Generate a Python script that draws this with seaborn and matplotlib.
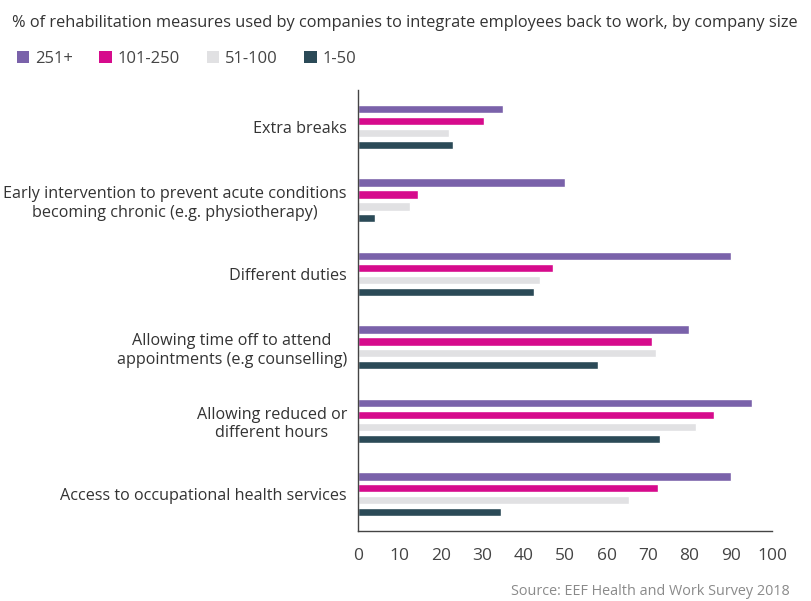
import matplotlib.pyplot as plt
import numpy as np
import pandas as pd
import seaborn as sns
from matplotlib.patches import Patch

# data
measures = [
    "Extra breaks",
    "Early intervention to prevent acute conditions\nbecoming chronic (e.g. physiotherapy)",
    "Different duties",
    "Allowing time off to attend\nappointments (e.g counselling)",
    "Allowing reduced or\ndifferent hours",
    "Access to occupational health services",
]
sizes = ["251+", "101-250", "51-100", "1-50"]
v_251 = [35, 50, 90, 80, 95, 90]
v_101 = [30.5, 14.5, 47, 71, 86, 72.5]
v_51 = [22, 12.5, 44, 72, 81.5, 65.5]
v_1 = [23, 4, 42.5, 58, 73, 34.5]
colors = ["#7A62AA", "#D60B8C", "#E1E1E3", "#2B4A57"]

rows = []
for s, vals in zip(sizes, [v_251, v_101, v_51, v_1]):
    for m, v in zip(measures, vals):
        rows.append({"measure": m, "size": s, "pct": v})
df = pd.DataFrame(rows)

sns.set_style("white")
plt.rcParams['font.family'] = ['Open Sans', 'DejaVu Sans']

fig = plt.figure(figsize=(8.12, 6.01), dpi=100)
ax = fig.add_axes([0.441, 0.1165, 0.510, 0.7335])

sns.barplot(data=df, y="measure", x="pct", hue="size", hue_order=sizes,
            order=measures, palette=colors, orient="y", width=0.65, gap=0.3,
            saturation=1, legend=False, ax=ax)

ax.set_xlim(0, 100)
ax.set_ylim(5.5, -0.5)
ax.set_xticks(np.arange(0, 101, 10))
ax.set_xlabel("")
ax.set_ylabel("")
ax.set_yticks(np.arange(-0.5, 6, 1), minor=True)
ax.tick_params(axis="y", which="major", length=0, pad=8, labelsize=11.6, labelcolor="#333333")
ax.tick_params(axis="y", which="minor", length=5, width=1, color="#555555", direction="out")
ax.tick_params(axis="x", length=6, width=1, color="#555555", labelsize=12.5, labelcolor="#444444", pad=6)
for lab in ax.get_yticklabels():
    lab.set_multialignment("center")
for sp in ["top", "right"]:
    ax.spines[sp].set_visible(False)
for sp in ["left", "bottom"]:
    ax.spines[sp].set_color("#444444")
    ax.spines[sp].set_linewidth(1)

fig.text(0.015, 0.962, "% of rehabilitation measures used by companies to integrate employees back to work, by company size",
         fontsize=11.8, color="#333333", va="center", ha="left")

handles = [Patch(facecolor=c, edgecolor="none", label=s) for s, c in zip(sizes, colors)]
fig.legend(handles=handles, loc="center left", bbox_to_anchor=(0.002, 0.902), ncol=4, frameon=False,
           fontsize=12, handlelength=0.75, handleheight=0.75, handletextpad=0.35, columnspacing=1.6,
           labelcolor="#444444")

fig.text(0.972, 0.004, "Source: EEF Health and Work Survey 2018", fontsize=10.4, color="#8a8a8a",
         ha="right", va="bottom")

fig.savefig("out.png", dpi=100)
